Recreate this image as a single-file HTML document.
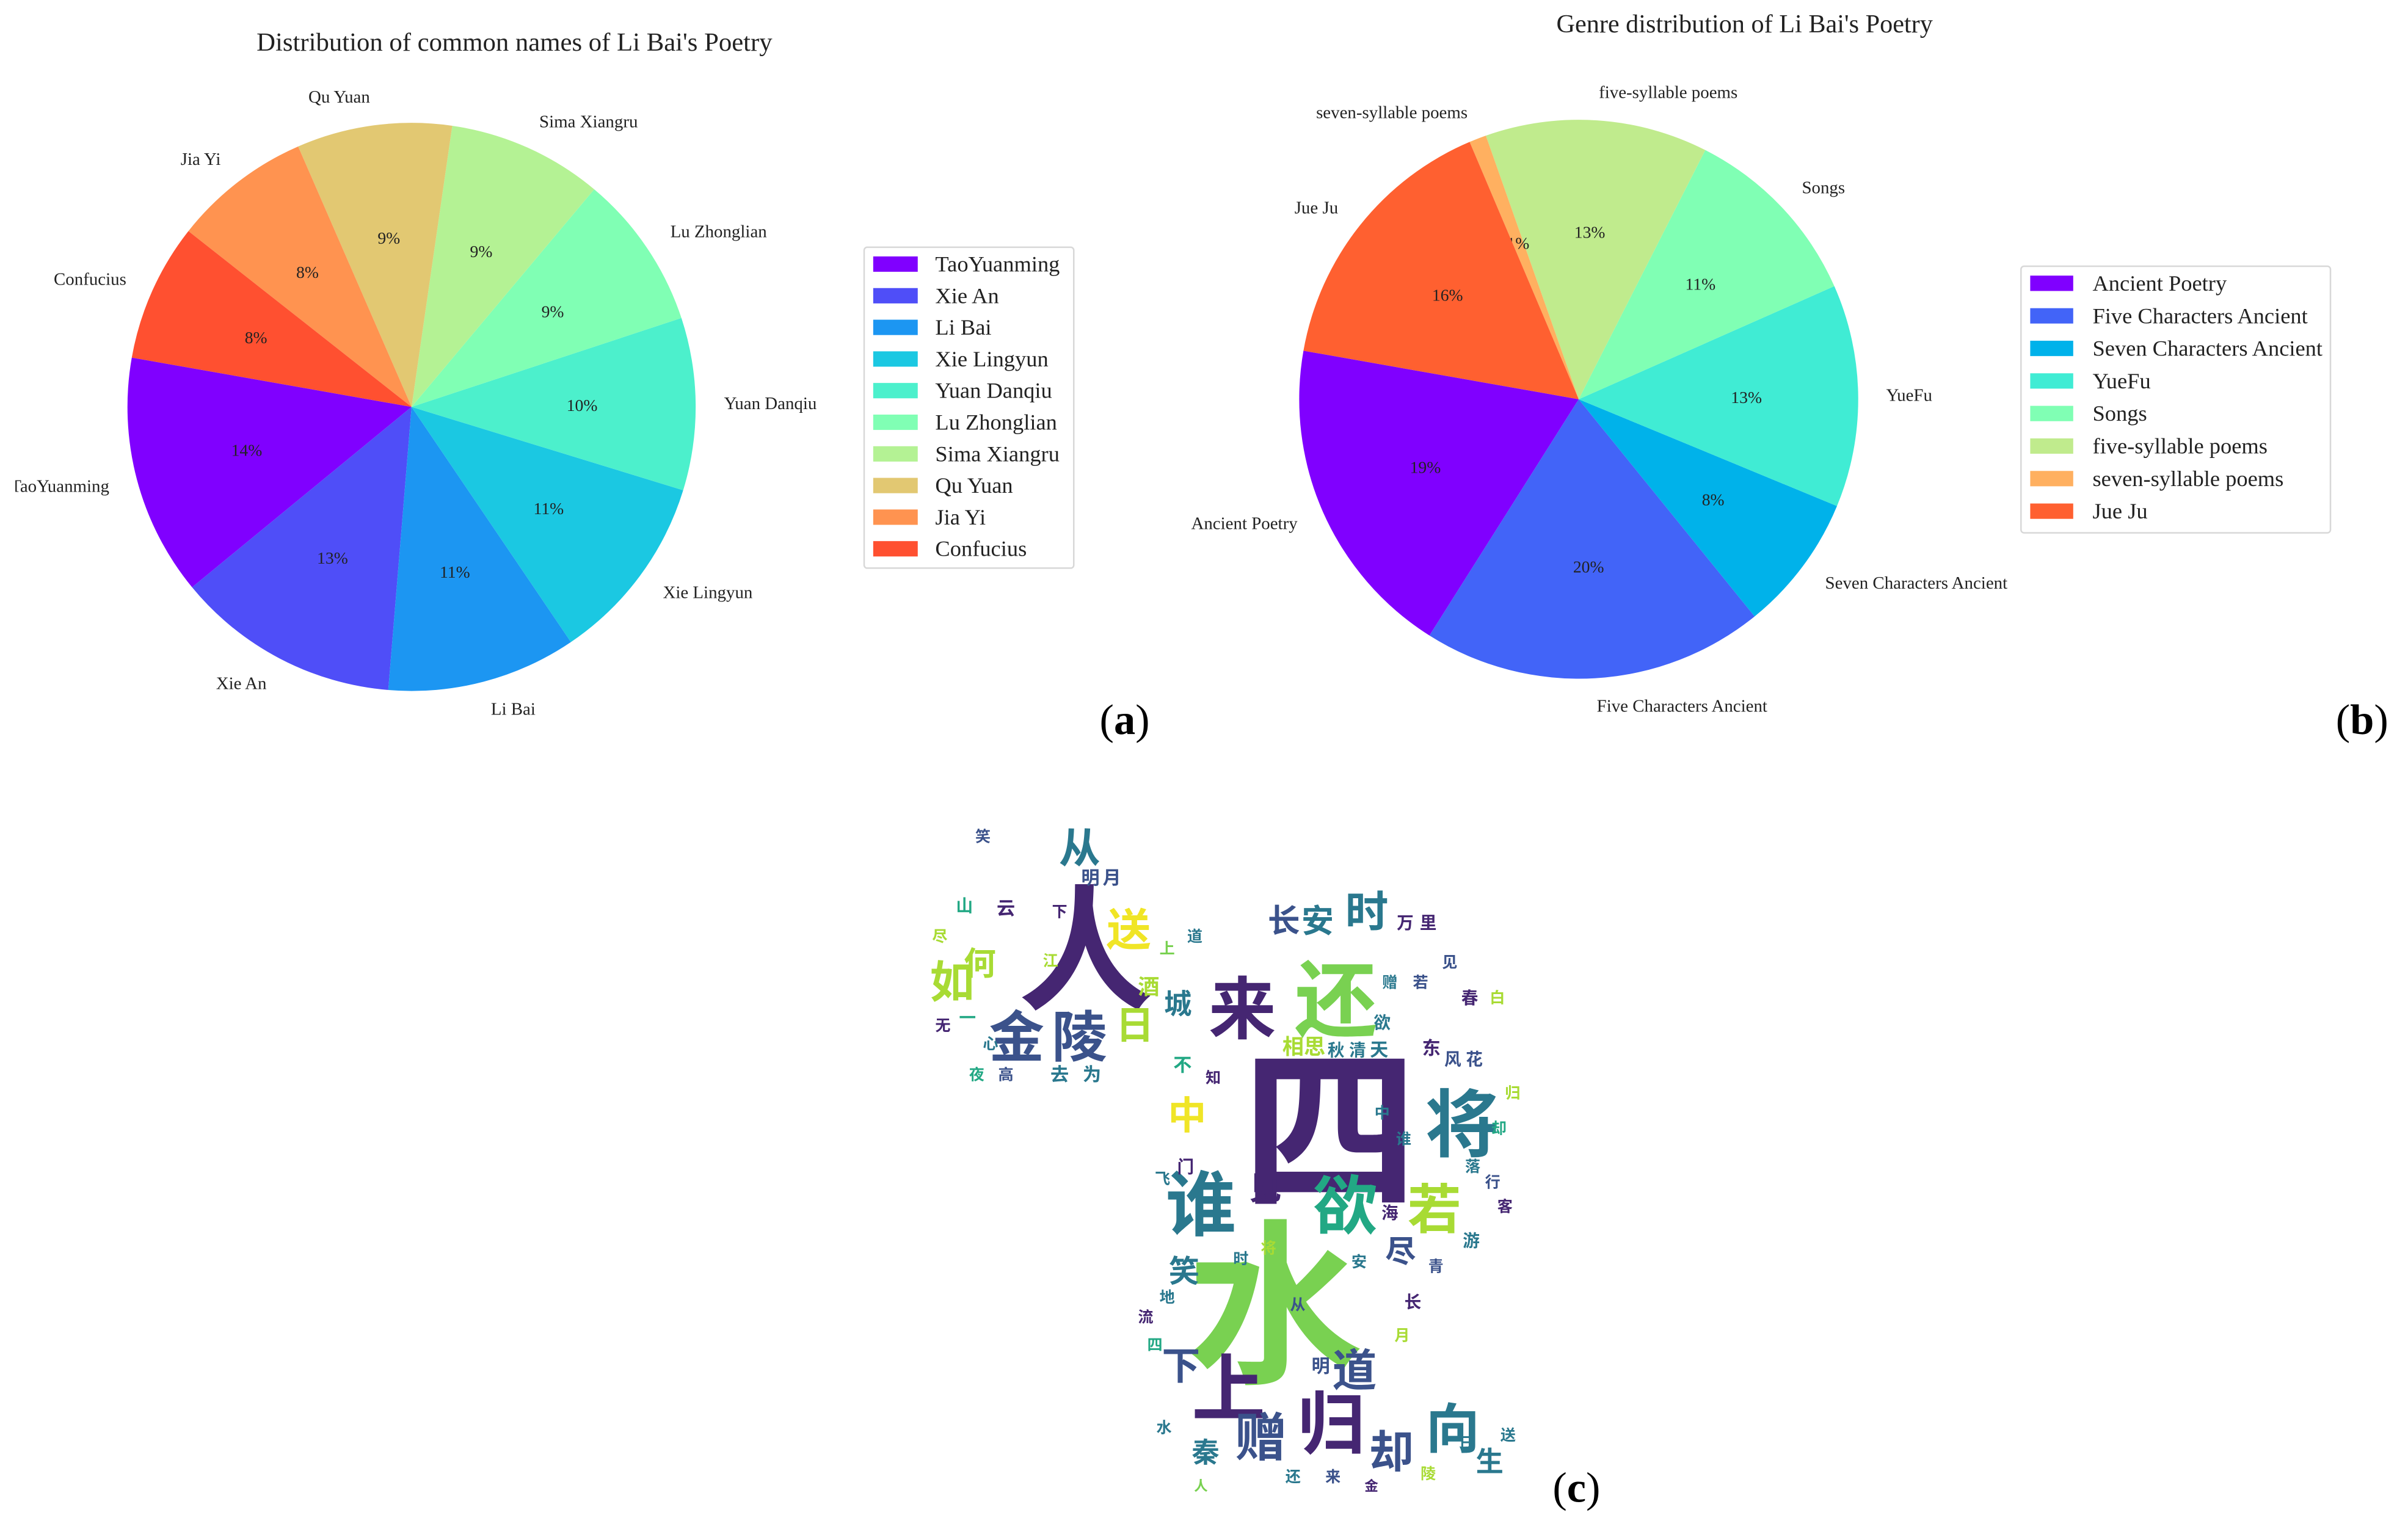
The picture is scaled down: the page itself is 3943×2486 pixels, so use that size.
<!DOCTYPE html>
<html><head><meta charset="utf-8"><style>
html,body{margin:0;padding:0;background:#fff;}
svg{display:block;}
text{font-family:"Liberation Serif",serif;}
.cj{font-family:"Liberation Sans","Noto Sans CJK SC",sans-serif;font-weight:bold;}
</style></head><body>
<svg id="fig" width="3943" height="2486" viewBox="0 0 1568 988.6" preserveAspectRatio="none" xmlns="http://www.w3.org/2000/svg">
<defs><clipPath id="clipA"><rect x="10" y="0" width="1560" height="990"/></clipPath></defs>
<g id="chartA" clip-path="url(#clipA)"></g>
<g id="chartB"></g>
<text x="335" y="33" font-size="17" text-anchor="middle" fill="#222">Distribution of common names of Li Bai's Poetry</text>
<text x="1136" y="21" font-size="16.8" text-anchor="middle" fill="#222">Genre distribution of Li Bai's Poetry</text>
<g id="legA"></g>
<g id="legB"></g>
<text x="716" y="478" font-size="28" fill="#000">(<tspan font-weight="bold">a</tspan>)</text>
<text x="1521" y="478" font-size="28" fill="#000">(<tspan font-weight="bold">b</tspan>)</text>
<text x="1011" y="978" font-size="28" fill="#000">(<tspan font-weight="bold">c</tspan>)</text>
<g id="cloud"></g>
</svg>
<script>
// ---- chart (a) data ----
const namesCategories = ["TaoYuanming","Xie An","Li Bai","Xie Lingyun","Yuan Danqiu","Lu Zhonglian","Sima Xiangru","Qu Yuan","Jia Yi","Confucius"];
const namesValues = [14,13,11,11,10,9,9,9,8,8];
const namesColors = ["#8000ff","#4f4ef8","#1c96f2","#1bc8e2","#4cf0cc","#80ffb4","#b4f294","#e2c872","#ff9350","#ff5030"];
// ---- chart (b) data ----
const genreCategories = ["Ancient Poetry","Five Characters Ancient","Seven Characters Ancient","YueFu","Songs","five-syllable poems","seven-syllable poems","Jue Ju"];
const genreValues = [19,20,8,13,11,13,1,16];
const genreColors = ["#8000ff","#4264f8","#00b2ea","#40ecd4","#80ffb4","#c0eb8d","#ffb060","#ff6030"];

const NS="http://www.w3.org/2000/svg";
function mk(tag,attrs,parent){const e=document.createElementNS(NS,tag);for(const k in attrs)e.setAttribute(k,attrs[k]);parent.appendChild(e);return e;}

function drawPie(g,cats,vals,cols,cx,cy,r,start,labelSize,pctSize,nm){
  const total=vals.reduce((a,b)=>a+b,0);
  let a0=start;
  vals.forEach((v,i)=>{
    const sweep=v/total*360, a1=a0+sweep;
    const rad=d=>d*Math.PI/180;
    const x0=cx+r*Math.cos(rad(a0)), y0=cy-r*Math.sin(rad(a0));
    const x1=cx+r*Math.cos(rad(a1)), y1=cy-r*Math.sin(rad(a1));
    const large=sweep>180?1:0;
    const p=mk('path',{d:`M${cx},${cy} L${x0},${y0} A${r},${r} 0 ${large} 0 ${x1},${y1} Z`,fill:cols[i]},g);
    
    
    const m=rad((a0+a1)/2);
    const lx=cx+1.1*r*Math.cos(m), ly=cy-1.1*r*Math.sin(m);
    const t=mk('text',{x:lx,y:ly,'font-size':labelSize,'text-anchor':Math.cos(m)>=0?'start':'end','dominant-baseline':'central',fill:'#222'},g);
    t.textContent=cats[i];
    
    
    const px=cx+0.6*r*Math.cos(m), py=cy-0.6*r*Math.sin(m);
    const pt=mk('text',{x:px,y:py,'font-size':pctSize,'text-anchor':'middle','dominant-baseline':'central',fill:'#222'},g);
    pt.textContent=Math.round(v/total*100)+'%';
    
    
    a0=a1;
  });
}
drawPie(document.getElementById('chartA'),namesCategories,namesValues,namesColors,268,265,185,170,11.5,11,'names');
drawPie(document.getElementById('chartB'),genreCategories,genreValues,genreColors,1028,260,182,170,11.5,11,'genre');

function drawLegend(g,cats,cols,bx,by,bw,bh,px,pw,ph,tx,y0,dy,fs,nm){
  mk('rect',{x:bx,y:by,width:bw,height:bh,rx:2,fill:'#fff',stroke:'#d8d8d8','stroke-width':1},g);
  cats.forEach((c,i)=>{
    const y=y0+i*dy;
    const r=mk('rect',{x:px,y:y-ph/2,width:pw,height:ph,fill:cols[i]},g);
    
    
    const t=mk('text',{x:tx,y:y,'font-size':fs,'dominant-baseline':'central',fill:'#222'},g);
    t.textContent=c;
    
    
  });
}
drawLegend(document.getElementById('legA'),namesCategories,namesColors,562.7,161,136.5,209,568.6,29,10,609,172,20.6,14.5,'names');
drawLegend(document.getElementById('legB'),genreCategories,genreColors,1316,173.4,201.5,173.6,1322,28,10,1362.6,184.5,21.2,14.5,'genre');

// ---- word cloud words ----
const cloudWords = ["四","水","人","还","来","金","陵","日","送","从","明","月","长","安","时","将","中","谁","欲","若","见","尽","笑","下","上","道","赠","归","却","向","生","秦","相","思","如","何","万","里","云","山","秋","清","天","东","风","花","春","白","酒","城","江","去","为","不","知","无","一","心","夜","高","门","飞","落","行","客","游","青","海","地","流"];
const cloudCols = {P:"#452672",D:"#3b528b",T:"#2a788e",G:"#79d151",Y:"#f0e526",O:"#a8db34",C:"#22a884"};
const cloudLayout = [
 [866,738,115,"P"],[830,852,115,"G"],[707,620,88,"P"],[870,652,54,"G"],[809,658,44,"P"],
 [662,676,36,"D"],[703,676,36,"D"],[739,668,25,"O"],[735,606,29,"Y"],[703,553,27,"T"],
 [710,572,12,"D"],[724,572,12,"D"],[836,600,21,"D"],[858,600,21,"T"],[890,594,28,"T"],
 [952,733,48,"T"],[773,727,25,"Y"],[782,785,46,"T"],[876,786,42,"C"],[934,788,35,"O"],
 [824,774,21,"P"],[912,815,20,"D"],[771,828,20,"T"],[769,890,25,"D"],[800,905,48,"P"],
 [882,893,29,"D"],[821,937,34,"D"],[867,928,44,"P"],[906,946,29,"D"],[946,931,35,"T"],
 [970,952,18,"T"],[785,946,18,"T"],[842,682,14,"O"],[856,682,14,"O"],[620,640,29,"O"],
 [638,628,21,"O"],[915,601,11,"P"],[930,601,11,"P"],[655,592,12,"P"],[628,590,11,"C"],
 [870,684,11,"T"],[884,684,11,"T"],[898,684,12,"T"],[932,683,12,"P"],[946,690,11,"D"],
 [960,690,11,"D"],[957,650,11,"P"],[975,650,10,"O"],[748,643,14,"O"],[767,654,18,"T"],
 [684,626,10,"O"],[690,700,12,"T"],[711,700,12,"T"],[770,694,12,"C"],[790,702,10,"P"],
 [614,668,10,"P"],[630,663,11,"C"],[645,680,10,"T"],[636,700,10,"C"],[655,700,10,"D"],
 [772,760,11,"P"],[757,768,10,"T"],[959,760,10,"T"],[972,770,10,"D"],[980,786,10,"P"],
 [958,808,11,"T"],[935,825,10,"D"],[905,790,11,"P"],[760,845,10,"T"],[746,858,10,"P"],
 [752,876,10,"C"],[758,930,10,"T"],[782,968,9,"G"],[842,962,10,"T"],[868,962,10,"D"],
 [893,968,9,"P"],[930,960,10,"O"],[955,940,10,"T"],[982,935,10,"T"],[845,850,10,"D"],
 [860,890,12,"D"],[913,870,10,"O"],[920,848,11,"P"],[885,822,10,"T"],[808,820,10,"T"],
 [826,813,10,"O"],[900,725,10,"T"],[914,742,10,"T"],[900,666,11,"T"],[925,640,10,"D"],
 [944,627,10,"D"],[612,610,10,"O"],[640,545,10,"D"],[690,594,10,"P"],[760,618,10,"G"],
 [778,610,10,"T"],[905,640,10,"T"],[985,712,10,"O"],[976,735,10,"C"]
];
const cloud=document.getElementById('cloud');
cloudLayout.forEach((w,i)=>{
  const t=mk('text',{x:w[0],y:w[1],'font-size':w[2],'text-anchor':'middle','dominant-baseline':'central',fill:cloudCols[w[3]],class:'cj'},cloud);
  t.textContent=cloudWords[i%cloudWords.length];
  
  
});
</script>
</body></html>
